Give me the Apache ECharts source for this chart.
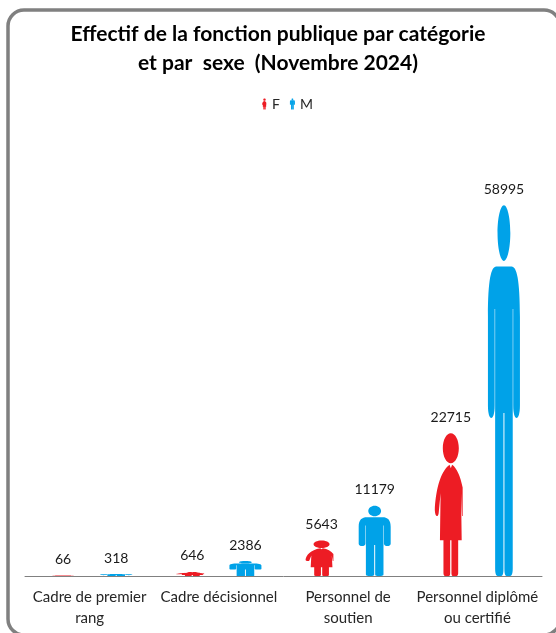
<!DOCTYPE html>
<html>
<head>
<meta charset="utf-8">
<style>
html, body { margin: 0; padding: 0; background: #fff; }
#chart { width: 556px; height: 633px; }
</style>
<script src="https://cdn.jsdelivr.net/npm/echarts@6/dist/echarts.min.js"></script>
</head>
<body>
<div id="chart"></div>
<script>
var categories = ['Cadre de premier\nrang', 'Cadre décisionnel', 'Personnel de\nsoutien', 'Personnel diplômé\nou certifié'];
var femmes = [66, 646, 5643, 22715];
var hommes = [318, 2386, 11179, 58995];

// silhouettes, étirées à la hauteur de la barre
var homme_path = 'path://M50 0C61 0 70 3.4 70 7.5C70 11.6 61 15 50 15C39 15 30 11.6 30 7.5C30 3.4 39 0 50 0Z'
    + 'M26 16.5L74 16.5C90 16.5 100 20 100 30L100 54C100 58.5 79 58.5 79 54L79 28L77.5 28L77.5 98C77.5 99.5 74 100 70 100L58 100C54 100 51.5 99.5 51.5 98L51.5 56L48.5 56L48.5 98C48.5 99.5 46 100 42 100L30 100C26 100 22.5 99.5 22.5 98L22.5 28L21 28L21 54C21 58.5 0 58.5 0 54L0 30C0 20 10 16.5 26 16.5Z';
var femme_path = 'path://M100 50L100 50Z'
    + 'M50 0C64 0 75 4.7 75 10.5C75 16.3 64 21 50 21C36 21 25 16.3 25 10.5C25 4.7 36 0 50 0Z'
    + 'M46 22L50 24.5L54 22C68 24 80 30 87 38L87 58L85 58L82 42L84 75L73 75L73 98C73 99.5 70 100 66 100L58 100C54 100 52 99.5 52 98L52 75L48 75L48 98C48 99.5 46 100 42 100L34 100C30 100 27 99.5 27 98L27 75L16 75L18 42L12 56C10 59 1 59 0 54C2 42 15 27 46 22Z';

var chart = echarts.init(document.getElementById('chart'));

var font = 'Lato';

var option = {
    animation: false,
    backgroundColor: '#ffffff',
    textStyle: { fontFamily: font },
    title: {
        text: 'Effectif de la fonction publique par catégorie\net par  sexe  (Novembre 2024)',
        left: 'center',
        top: 15,
        textStyle: { fontFamily: font, fontSize: 21, fontWeight: 'bold', color: '#000000', lineHeight: 29, align: 'center' }
    },
    legend: {
        top: 92,
        left: 257,
        itemWidth: 5,
        itemHeight: 11,
        itemGap: 10,
        symbolKeepAspect: false,
        textStyle: { fontFamily: font, fontSize: 14, color: '#262626' },
        data: [
            { name: 'F', icon: femme_path },
            { name: 'M', icon: homme_path }
        ]
    },
    grid: { left: 25, width: 517, top: 199, height: 377 },
    xAxis: {
        type: 'category',
        data: categories,
        axisTick: { show: false },
        axisLine: { lineStyle: { color: '#808080', width: 1 } },
        axisLabel: { color: '#262626', fontSize: 15, lineHeight: 21, margin: 11, interval: 0, fontFamily: font }
    },
    yAxis: {
        type: 'value',
        min: 0,
        max: 60000,
        show: false
    },
    series: [
        {
            name: 'F',
            type: 'pictorialBar',
            data: femmes,
            symbol: femme_path,
            symbolSize: ['100%', '100%'],
            barWidth: 32,
            barGap: '66%',
            itemStyle: { color: '#ed1c24' },
            label: { show: true, position: 'top', distance: 9, fontSize: 14, color: '#1a1a1a', fontFamily: font }
        },
        {
            name: 'M',
            type: 'pictorialBar',
            data: hommes,
            symbol: homme_path,
            symbolSize: ['100%', '100%'],
            barWidth: 32,
            barGap: '66%',
            itemStyle: { color: '#00a2e8' },
            label: { show: true, position: 'top', distance: 9, fontSize: 14, color: '#1a1a1a', fontFamily: font }
        }
    ],
    graphic: [
        {
            type: 'rect',
            silent: true,
            shape: { x: 8, y: 10, width: 552, height: 625, r: 16 },
            style: { fill: 'none', stroke: '#808080', lineWidth: 3.5 }
        }
    ]
};

chart.setOption(option);
</script>
</body>
</html>
